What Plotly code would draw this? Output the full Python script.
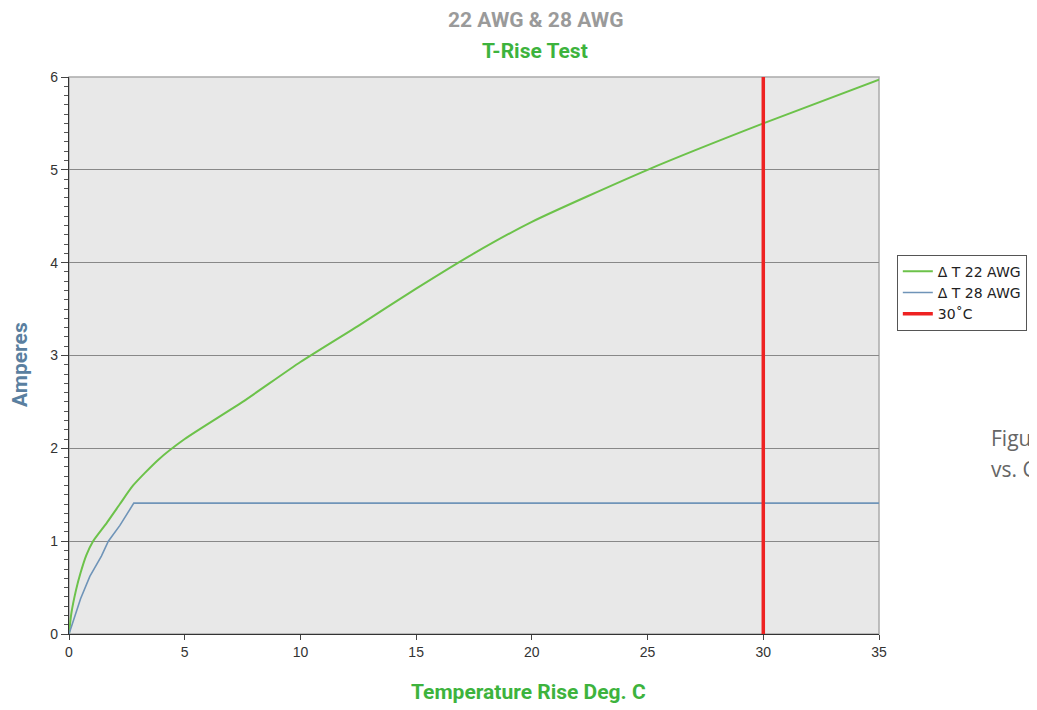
import plotly.graph_objects as go

# Data
x22 = [0, 0.1, 0.3, 0.5, 0.75, 1.04, 1.64, 2.2, 2.77, 3.85, 5, 7.5, 10, 12.5, 15, 17.5, 20, 25, 30, 35]
y22 = [0, 0.22, 0.47, 0.66, 0.85, 1.0, 1.2, 1.4, 1.6, 1.875, 2.1, 2.5, 2.93, 3.32, 3.72, 4.1, 4.44, 5.0, 5.5, 5.97]

x28 = [0, 0.2, 0.5, 0.9, 1.4, 1.7, 2.2, 2.8, 35]
y28 = [0, 0.15, 0.38, 0.62, 0.84, 1.0, 1.17, 1.41, 1.41]

x30 = [30, 30]
y30 = [0, 6]

names = ["Δ T 22 AWG", "Δ T 28 AWG", "30˚C"]

cond = "Roboto, Liberation Sans Narrow, sans-serif"

fig = go.Figure()
fig.add_trace(go.Scatter(x=x22, y=y22, mode="lines", name=names[0],
                         line=dict(color="#6cc24a", width=2, shape="spline", smoothing=0.6)))
fig.add_trace(go.Scatter(x=x28, y=y28, mode="lines", name=names[1],
                         line=dict(color="#6f94b8", width=1.6, shape="linear")))
fig.add_trace(go.Scatter(x=x30, y=y30, mode="lines", name=names[2],
                         line=dict(color="#ee2222", width=3.5)))

# page body has an 8px margin, so the figure is 8px smaller than the window
fig.update_layout(
    width=1029, height=702,
    margin=dict(l=61, r=158, t=69, b=76, autoexpand=False),
    paper_bgcolor="white",
    plot_bgcolor="#e8e8e8",
    font=dict(family="Liberation Sans, Arial, sans-serif", size=13, color="#333"),
    showlegend=True,
    legend=dict(x=1.022, y=0.681, xanchor="left", yanchor="top",
                bgcolor="white", bordercolor="#555", borderwidth=1,
                font=dict(family="DejaVu Sans, sans-serif", size=14, color="#222"),
                tracegroupgap=0),
    xaxis=dict(range=[0, 35], dtick=5, tick0=0, showgrid=False, zeroline=False,
               showline=True, linecolor="#333", linewidth=1.2, mirror=False,
               ticks="outside", ticklen=5, tickcolor="#444", automargin=False,
               tickfont=dict(size=14, color="#333")),
    yaxis=dict(range=[0, 6], dtick=1, tick0=0, showgrid=True, gridcolor="#888", gridwidth=1,
               zeroline=False, showline=True, linecolor="#333", linewidth=1.2,
               ticks="outside", ticklen=7, tickcolor="#444", automargin=False,
               minor=dict(dtick=0.1, ticks="outside", ticklen=4, tickcolor="#555", showgrid=False),
               tickfont=dict(size=14, color="#333")),
)

# plot border (top/right)
fig.add_shape(type="rect", xref="paper", yref="paper", x0=0, y0=0, x1=1, y1=1,
              line=dict(color="#aaa", width=1.5), layer="below")

def px_x(p):
    return (p - 69) / 810

def px_y(p):
    return (634 - p) / 557

fig.add_annotation(text="<b>22 AWG & 28 AWG</b>", xref="paper", yref="paper",
                   x=px_x(535), y=px_y(20), showarrow=False, xanchor="center", yanchor="middle",
                   font=dict(family=cond, size=21, color="#9a9a9a"))
fig.add_annotation(text="<b>T-Rise Test</b>", xref="paper", yref="paper",
                   x=px_x(535), y=px_y(51), showarrow=False, xanchor="center", yanchor="middle",
                   font=dict(family=cond, size=21, color="#3db33d"))
fig.add_annotation(text="<b>Temperature Rise Deg. C</b>", xref="paper", yref="paper",
                   x=px_x(528), y=px_y(692), showarrow=False, xanchor="center", yanchor="middle",
                   font=dict(family=cond, size=21, color="#3db33d"))
fig.add_annotation(text="<b>Amperes</b>", xref="paper", yref="paper",
                   x=px_x(20), y=px_y(365), showarrow=False, textangle=-90,
                   xanchor="center", yanchor="middle",
                   font=dict(family=cond, size=21, color="#5a7fa0"))
fig.add_annotation(text="Figu", xref="paper", yref="paper", xanchor="left", yanchor="middle",
                   x=px_x(989), y=px_y(438), showarrow=False,
                   font=dict(family="Open Sans, sans-serif", size=21, color="#666"))
fig.add_annotation(text="vs. C", xref="paper", yref="paper", xanchor="left", yanchor="middle",
                   x=px_x(989), y=px_y(469), showarrow=False,
                   font=dict(family="Open Sans, sans-serif", size=21, color="#666"))

fig.write_html("out.html")
